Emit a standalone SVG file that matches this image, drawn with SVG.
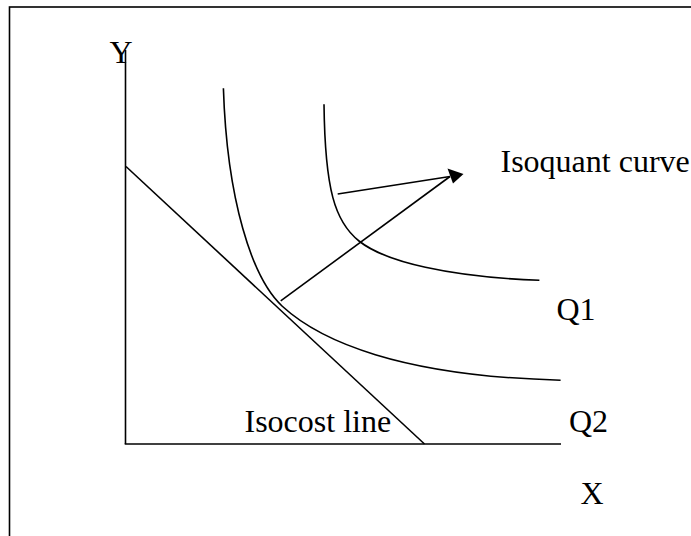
<svg xmlns="http://www.w3.org/2000/svg" width="691" height="536" viewBox="0 0 691 536">
<style>
.ln{fill:none;stroke:#000;stroke-width:1.6;}
.t{font-family:"Liberation Serif","Times New Roman",serif;font-size:32px;fill:#000;}
</style>
<rect x="0" y="0" width="691" height="536" fill="#fff"/>
<rect x="9.5" y="7" width="700" height="560" fill="none" stroke="#000" stroke-width="1.6"/>
<g id="axes">
<line class="ln" x1="125.5" y1="50" x2="125.5" y2="444"/>
<line class="ln" x1="124.7" y1="444" x2="561" y2="444"/>
<text class="t" x="109.5" y="63">Y</text>
<text class="t" x="580.5" y="504">X</text>
</g>
<g id="isocost">
<line class="ln" x1="126" y1="166.5" x2="424.5" y2="444"/>
<text class="t" x="244.5" y="431.5">Isocost line</text>
</g>
<g id="q2">
<path class="ln" d="M223.4,88.2 C227,200 252,278 282,306 C320,341 400,376 560.6,380.2"/>
<text class="t" x="569" y="431.5">Q2</text>
</g>
<g id="q1">
<path class="ln" d="M324,104.3 C325,190 335,222 359,241 C385,262 450,277 539.4,280.3"/>
<text class="t" x="556.5" y="320">Q1</text>
</g>
<g id="label">
<text class="t" x="500.5" y="172">Isoquant curve</text>
</g>
<g id="connectors">
<line class="ln" x1="280.7" y1="300.9" x2="450" y2="176.5"/>
<line class="ln" x1="337.7" y1="194" x2="450" y2="176.5"/>
<polygon points="463.5,174 447.5,168.5 453,183.5" fill="#000"/>
</g>
</svg>
